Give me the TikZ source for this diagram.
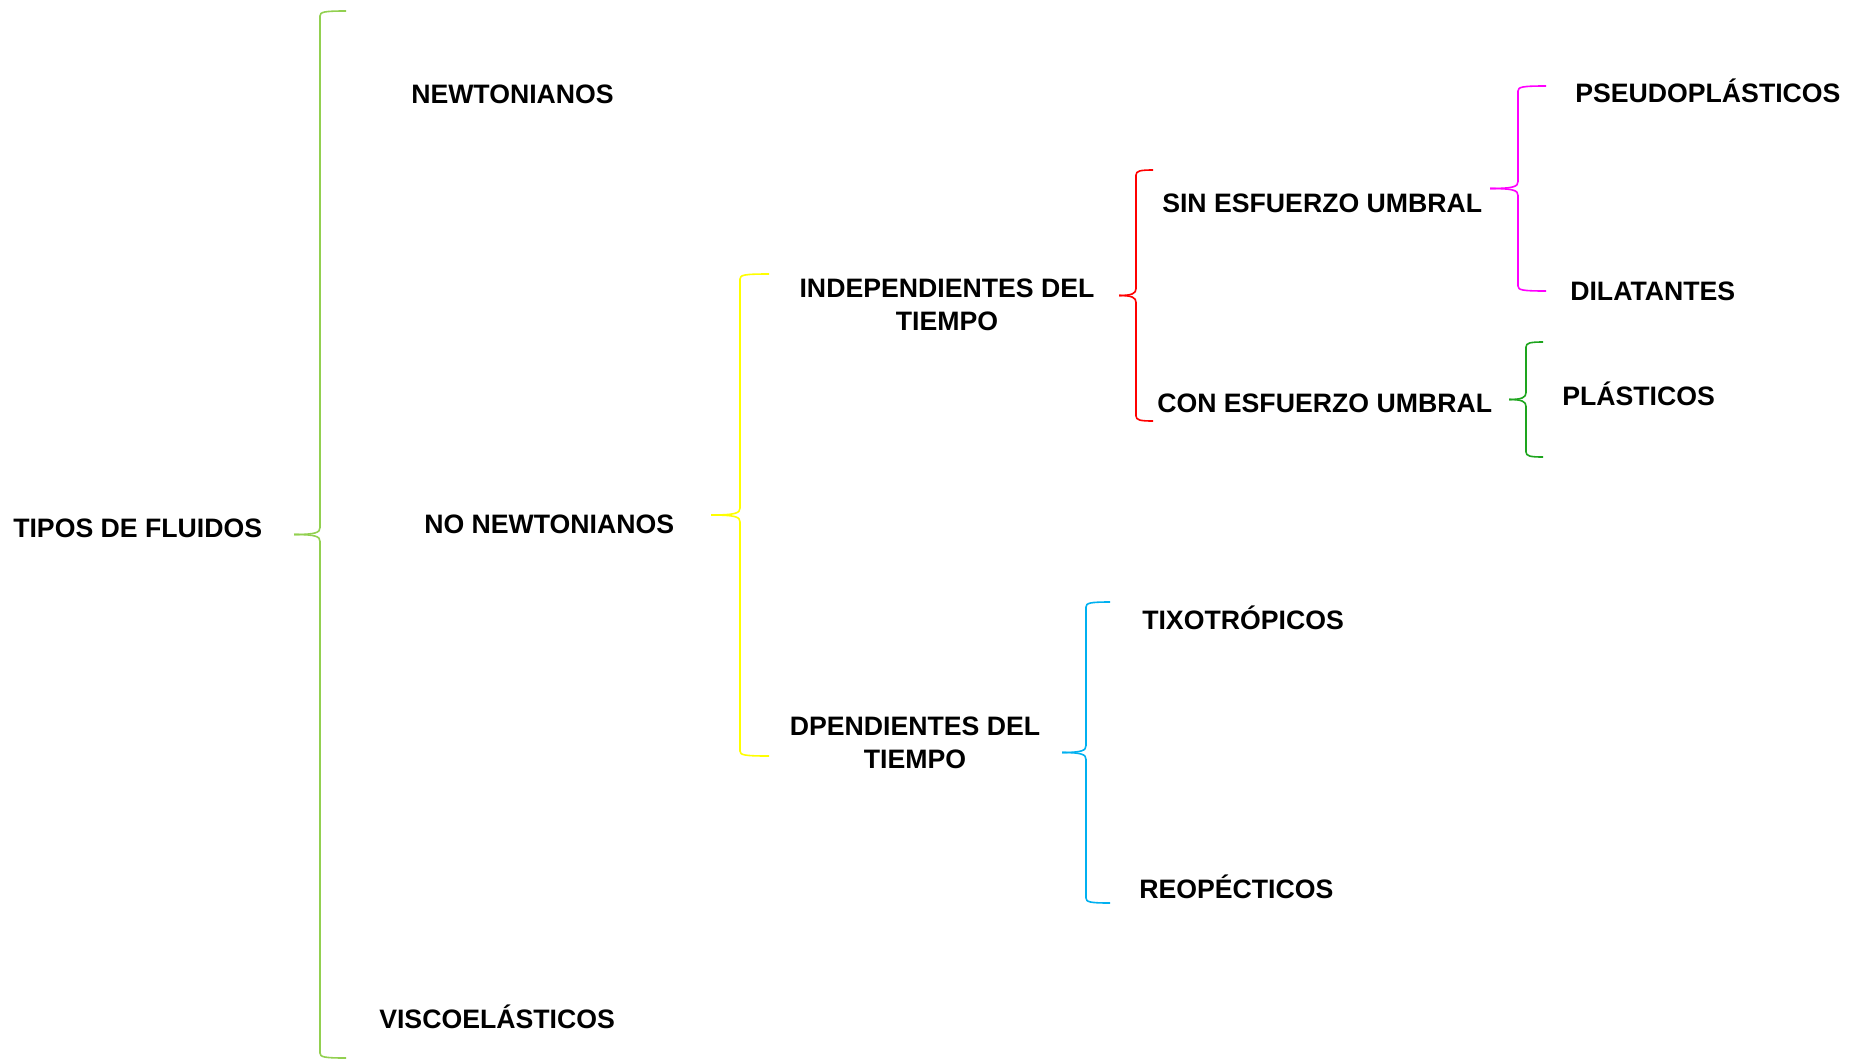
\documentclass[tikz,border=0pt]{standalone}
\usepackage{fontspec}
\setmainfont{Liberation Sans}
\definecolor{verdelima}{RGB}{146,208,80}
\definecolor{verde}{RGB}{30,165,30}
\definecolor{celeste}{RGB}{0,176,240}
\definecolor{amarillo}{RGB}{255,255,0}
\definecolor{rojo}{RGB}{255,0,0}
\definecolor{fucsia}{RGB}{255,0,255}
\tikzset{
  texto/.style={font=\fontsize{20}{25}\selectfont\bfseries, inner sep=0pt},
  llavelinea/.style={line width=1.2pt}
}
% llave: color, x, y arriba, y abajo, ancho
\newcommand{\llave}[5]{%
  \draw[llavelinea,#1] ({#2+#5},#3) .. controls ({#2+4},#3) and (#2,{#3+1}) .. (#2,{#3+5})
    -- (#2,{(#3+#4)/2-7}) .. controls (#2,{(#3+#4)/2-2}) and ({#2-4},{(#3+#4)/2}) .. ({#2-#5},{(#3+#4)/2});
  \draw[llavelinea,#1] ({#2+#5},#4) .. controls ({#2+4},#4) and (#2,{#4-1}) .. (#2,{#4-5})
    -- (#2,{(#3+#4)/2+7}) .. controls (#2,{(#3+#4)/2+2}) and ({#2-4},{(#3+#4)/2}) .. ({#2-#5},{(#3+#4)/2});
}
\begin{document}
\begin{tikzpicture}[x=0.75pt,y=-0.75pt]
      \useasboundingbox (0,0) rectangle (1865,1060);
      %textos
      \node[texto,anchor=base west] (tipos) at (13,537) {TIPOS DE FLUIDOS};
      \node[texto,anchor=base west] (newt) at (411,103) {NEWTONIANOS};
      \node[texto,anchor=base west] (nonewt) at (424,533) {NO NEWTONIANOS};
      \node[texto,anchor=base west] (visco) at (379,1028) {VISCOELÁSTICOS};
      \node[texto,align=center] (indep) at (947,305) {INDEPENDIENTES DEL\\TIEMPO};
      \node[texto,align=center] (dep) at (915,743) {DPENDIENTES DEL\\TIEMPO};
      \node[texto,anchor=base west] (sin) at (1162,212) {SIN ESFUERZO UMBRAL};
      \node[texto,anchor=base west] (con) at (1157,412) {CON ESFUERZO UMBRAL};
      \node[texto,anchor=base west] (pseudo) at (1575,102) {PSEUDOPLÁSTICOS};
      \node[texto,anchor=base west] (dilat) at (1570,300) {DILATANTES};
      \node[texto,anchor=base west] (plast) at (1562,405) {PLÁSTICOS};
      \node[texto,anchor=base west] (tixo) at (1142,629) {TIXOTRÓPICOS};
      \node[texto,anchor=base west] (reo) at (1139,898) {REOPÉCTICOS};
      %llaves
      \llave{verdelima}{320}{11}{1058}{26}
      \llave{amarillo}{740}{274}{756}{29}
      \llave{rojo}{1136}{170}{421}{17}
      \llave{fucsia}{1518}{86}{291}{28}
      \llave{verde}{1526}{342}{457}{17}
      \llave{celeste}{1086}{602}{903}{24}
\end{tikzpicture}
\end{document}
